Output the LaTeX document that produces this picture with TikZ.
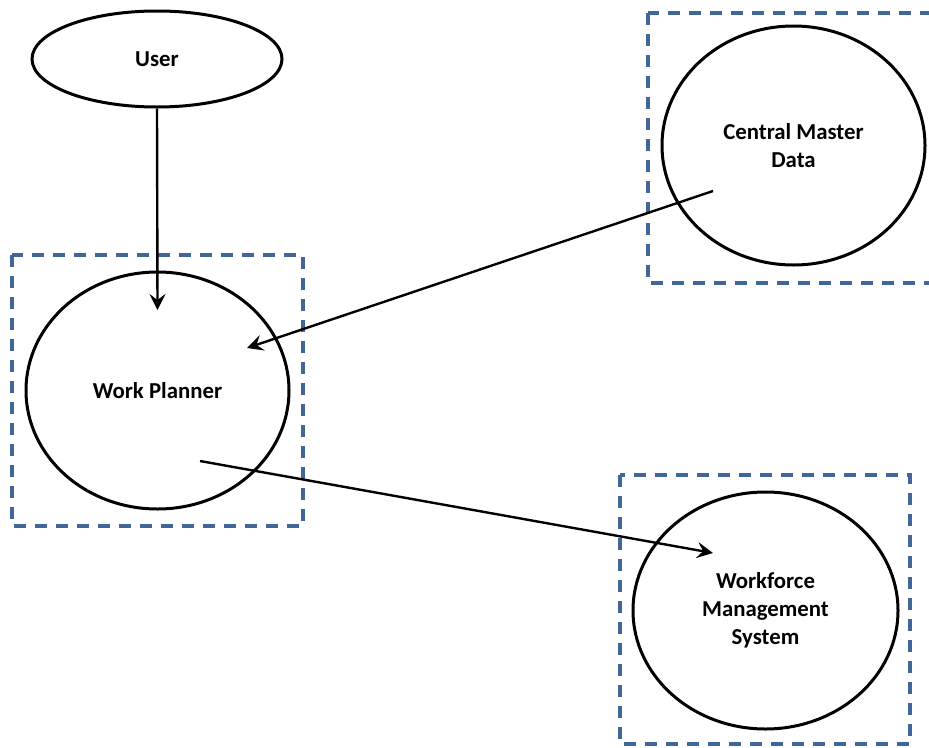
\documentclass[tikz,border=0pt]{standalone}
\usepackage{fontspec}
\setmainfont{Carlito}
\usetikzlibrary{arrows.meta,calc,shapes.geometric}
\definecolor{dashblue}{HTML}{41679A}
\tikzset{
  bubble/.style={draw=black, line width=3pt, ellipse, inner sep=0pt, align=center,
    font=\fontsize{22.8}{28}\selectfont\bfseries},
  arr/.style={line width=2.4pt, -{Stealth[length=16pt,width=16pt,inset=6pt]}},
  grp/.style={draw=dashblue, line width=3.2pt, dash pattern=on 12pt off 9pt}
}
\begin{document}
\begin{tikzpicture}[x=1pt,y=-1pt]
\useasboundingbox (0,0) rectangle (929,747);
% dashed group boxes
\draw[grp] (12,255) rectangle (303,526);
\draw[grp] (648,13) rectangle (940,283);
\draw[grp] (620,475) rectangle (910,744);
% nodes
\node[bubble, minimum width=250pt, minimum height=96pt] (user) at (157,59) {User};
\node[bubble, minimum width=263pt, minimum height=237pt] (wp) at (157.5,390.5) {Work Planner};
\node[bubble, minimum width=263pt, minimum height=239pt] (cmd) at (793.5,145.5) {Central Master\\Data};
\node[bubble, minimum width=265pt, minimum height=237pt] (wms) at (765.5,610.5) {Workforce\\Management\\System};
% connectors
\draw[arr] (user.south) -- ([shift={(0,-80.5)}]wp.center);
\draw[arr] ([shift={(-80.5,45.5)}]cmd.center) -- ([shift={(89.5,-42.5)}]wp.center);
\draw[arr] ([shift={(42.5,70.5)}]wp.center) -- ([shift={(-52.5,-57.5)}]wms.center);
\end{tikzpicture}
\end{document}
